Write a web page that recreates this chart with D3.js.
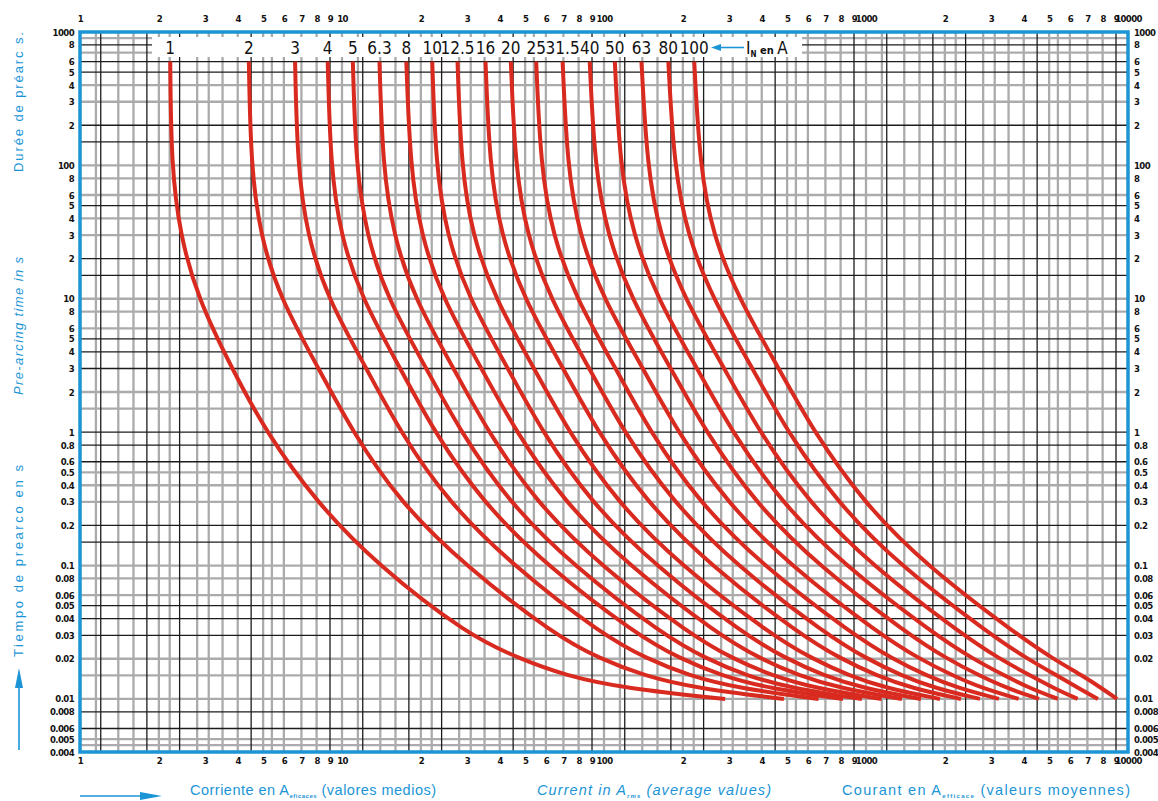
<!DOCTYPE html>
<html>
<head>
<meta charset="utf-8">
<script src="https://cdn.jsdelivr.net/npm/d3@7"></script>
<style>
    body { margin: 0; background: #fff; }
    svg text { font-family: "Liberation Sans Narrow", "DejaVu Sans Condensed", "Liberation Sans", sans-serif; }
    .tick-lbl text { font-size: 9.5px; font-weight: bold; fill: #111; letter-spacing: -0.6px; }
</style>
</head>
<body>
<svg id="chart" width="1158" height="801"></svg>
<script>
// fuse ratings (I_N in A) and the pre-arcing times
const ratings = [1, 2, 3, 4, 5, 6.3, 8, 10, 12.5, 16, 20, 25, 31.5, 40, 50, 63, 80, 100];
const rating_labels = ["1", "2", "3", "4", "5", "6.3", "8", "10", "12.5", "16", "20", "25", "31.5", "40", "50", "63", "80", "100"];
const times = [600, 100, 30, 10, 3, 1, 0.3, 0.1, 0.03, 0.02, 0.015, 0.012, 0.01];

// current (A) at each of the times above, one array per fuse
const curve_1 = [2.21, 2.23, 2.41, 2.82, 3.80, 5.13, 7.96, 13.7, 30.3, 47.8, 71.0, 120, 290];
const curve_2 = [4.41, 4.49, 4.87, 5.81, 8.14, 11.0, 16.6, 29.4, 65.0, 96.7, 141, 226, 486];
const curve_3 = [6.62, 6.76, 7.36, 8.82, 12.4, 16.7, 25.4, 44.8, 99.1, 146, 210, 327, 659];
const curve_4 = [8.82, 9.04, 9.86, 11.9, 16.7, 22.5, 34.3, 60.3, 134, 196, 279, 425, 817];
const curve_5 = [11.0, 11.3, 12.4, 14.9, 21.0, 28.4, 43.2, 76.0, 169, 246, 347, 521, 965];
const curve_6_3 = [13.9, 14.3, 15.7, 18.9, 26.7, 36.1, 55.0, 96.5, 215, 311, 436, 643, 1147];
const curve_8 = [17.6, 18.2, 20.0, 24.2, 34.1, 46.2, 70.4, 124, 275, 396, 552, 799, 1372];
const curve_10 = [22.1, 22.8, 25.1, 30.5, 43.0, 58.2, 88.8, 156, 347, 497, 688, 978, 1621];
const curve_12_5 = [27.6, 28.5, 31.4, 38.4, 54.1, 73.4, 112, 196, 437, 624, 858, 1199, 1916];
const curve_16 = [35.3, 36.6, 40.4, 49.5, 69.9, 94.7, 145, 254, 565, 802, 1094, 1501, 2304];
const curve_20 = [44.1, 45.8, 50.7, 62.3, 88.0, 119, 183, 319, 713, 1007, 1363, 1839, 2722];
const curve_25 = [55.1, 57.3, 63.6, 78.3, 111, 150, 230, 402, 899, 1263, 1699, 2253, 3217];
const curve_31_5 = [69.5, 72.4, 80.4, 99.4, 141, 191, 293, 511, 1143, 1598, 2135, 2781, 3824];
const curve_40 = [88.2, 92.1, 103, 127, 180, 245, 375, 655, 1467, 2038, 2702, 3456, 4574];
const curve_50 = [110, 115, 129, 160, 227, 308, 473, 825, 1849, 2556, 3368, 4234, 5404];
const curve_63 = [139, 146, 163, 203, 288, 392, 602, 1049, 2352, 3233, 4229, 5225, 6423];
const curve_80 = [176, 185, 208, 260, 369, 502, 772, 1343, 3014, 4123, 5355, 6494, 7678];
const curve_100 = [221, 232, 260, 327, 465, 633, 974, 1692, 3802, 5174, 6673, 7958, 9075];

const curves = [curve_1, curve_2, curve_3, curve_4, curve_5, curve_6_3, curve_8, curve_10, curve_12_5,
    curve_16, curve_20, curve_25, curve_31_5, curve_40, curve_50, curve_63, curve_80, curve_100];

// axis ticks
const x_decades = [1, 10, 100, 1000];
const x_tick_values = [1, 2, 3, 4, 5, 6, 7, 8, 9, 10, 20, 30, 40, 50, 60, 70, 80, 90, 100, 200, 300, 400, 500,
    600, 700, 800, 900, 1000, 2000, 3000, 4000, 5000, 6000, 7000, 8000, 9000, 10000];
const y_tick_values = [1000, 800, 600, 500, 400, 300, 200, 100, 80, 60, 50, 40, 30, 20, 10, 8, 6, 5, 4, 3, 2,
    1, 0.8, 0.6, 0.5, 0.4, 0.3, 0.2, 0.1, 0.08, 0.06, 0.05, 0.04, 0.03, 0.02, 0.01, 0.008, 0.006, 0.005, 0.004];

// grid (the printed grid is doubled: light grey lines and thin black lines)
const v_grey_mult = [1, 1.15, 1.4, 1.6, 2, 2.2, 2.8, 3.1, 3.5, 4, 5, 5.4, 6, 7, 8];
const v_black_mult = [1.2, 1.8, 2.4, 4.5, 9];
const h_grey = [900, 700, 400, 300, 100, 80, 60, 40, 30, 10, 8, 6, 2, 1.5, 0.5, 0.4, 0.3, 0.1, 0.08, 0.06,
    0.02, 0.015, 0.01, 0.005, 0.0045];
const h_black = [800, 600, 500, 200, 150, 50, 20, 15, 5, 4, 3, 1, 0.8, 0.6, 0.2, 0.15, 0.05, 0.04, 0.03,
    0.008, 0.006];

const blue = '#1b95d6';
const red = '#d92a20';

let svg = d3.select('#chart'),
    margin = {top: 32, left: 80, bottom: 49, right: 30},
    width = +svg.attr('width'),
    height = +svg.attr('height');

let x = d3.scaleLog().domain([1, 10000]).range([margin.left, width - margin.right]);
let y = d3.scaleLog().domain([0.004, 1000]).range([height - margin.bottom, margin.top]);

svg.append('defs').append('clipPath').attr('id', 'plot_clip')
    .append('rect')
    .attr('x', x(1)).attr('y', y(1000))
    .attr('width', x(10000) - x(1)).attr('height', y(0.004) - y(1000));

let grid = svg.append('g').attr('clip-path', 'url(#plot_clip)');

let v_grey = [], v_black = [];
x_decades.forEach(dec => {
    v_grey_mult.forEach(m => v_grey.push(m * dec));
    v_black_mult.forEach(m => v_black.push(m * dec));
});

grid.selectAll('.vg').data(v_grey).enter().append('line')
    .attr('x1', d => x(d)).attr('x2', d => x(d))
    .attr('y1', y(1000)).attr('y2', y(0.004))
    .attr('stroke', '#ababab').attr('stroke-width', 2.3);

grid.selectAll('.hg').data(h_grey).enter().append('line')
    .attr('y1', d => y(d)).attr('y2', d => y(d))
    .attr('x1', x(1)).attr('x2', x(10000))
    .attr('stroke', '#ababab').attr('stroke-width', 2.3);

grid.selectAll('.vb').data(v_black).enter().append('line')
    .attr('x1', d => x(d)).attr('x2', d => x(d))
    .attr('y1', y(1000)).attr('y2', y(0.004))
    .attr('stroke', '#1c1c1c').attr('stroke-width', 1.3);

grid.selectAll('.hb').data(h_black).enter().append('line')
    .attr('y1', d => y(d)).attr('y2', d => y(d))
    .attr('x1', x(1)).attr('x2', x(10000))
    .attr('stroke', '#1c1c1c').attr('stroke-width', 1.3);

// white band behind the rating labels
svg.append('rect')
    .attr('x', 152).attr('y', 37)
    .attr('width', 650).attr('height', 20)
    .attr('fill', '#fff');

// curves
let line = d3.line()
    .x(d => x(d[0]))
    .y(d => y(d[1]))
    .curve(d3.curveBasis);

svg.append('g').attr('clip-path', 'url(#plot_clip)')
    .selectAll('path')
    .data(curves.map(c => c.map((v, i) => [v, times[i]])))
    .enter().append('path')
    .attr('d', line)
    .attr('fill', 'none')
    .attr('stroke', red)
    .attr('stroke-width', 4)
    .attr('stroke-linejoin', 'round');

// rating labels above each curve
svg.append('g').selectAll('text')
    .data(ratings)
    .enter().append('text')
    .attr('x', (d, i) => x(curves[i][0]))
    .attr('y', 54)
    .attr('text-anchor', 'middle')
    .style('font-size', '17px')
    .attr('fill', '#111')
    .text((d, i) => rating_labels[i]);

let in_lbl = svg.append('g');
in_lbl.append('line')
    .attr('x1', 716).attr('x2', 744).attr('y1', 47.5).attr('y2', 47.5)
    .attr('stroke', blue).attr('stroke-width', 1.6);
in_lbl.append('path')
    .attr('d', 'M711,47.5 L721,44 L721,51 Z')
    .attr('fill', blue);
let in_txt = in_lbl.append('text').attr('x', 746).attr('y', 54).attr('fill', '#111').style('font-size', '17px');
in_txt.append('tspan').text('I');
in_txt.append('tspan').attr('dy', 3).style('font-size', '8px').style('font-weight', 'bold').text('N');
in_txt.append('tspan').attr('dy', -3).style('font-size', '11px').style('font-weight', 'bold').text(' en ');
in_txt.append('tspan').text('A');

// axes
let x_fmt = d => x_decades.concat([10000]).includes(d) ? String(d) : String(Math.round(d / Math.pow(10, Math.floor(Math.log10(d) + 1e-9))));
let y_fmt = d => {
    if (d < 1) return String(d);
    let p = Math.pow(10, Math.floor(Math.log10(d) + 1e-9));
    return Math.abs(d - p) < 1e-9 ? String(d) : String(Math.round(d / p));
};

svg.append('g').attr('class', 'tick-lbl')
    .attr('transform', `translate(0,${y(1000)})`)
    .call(d3.axisTop(x).tickValues(x_tick_values).tickFormat(x_fmt).tickSize(0).tickPadding(10))
    .call(g => g.select('.domain').remove());

svg.append('g').attr('class', 'tick-lbl')
    .attr('transform', `translate(0,${y(0.004)})`)
    .call(d3.axisBottom(x).tickValues(x_tick_values).tickFormat(x_fmt).tickSize(0).tickPadding(5))
    .call(g => g.select('.domain').remove());

svg.append('g').attr('class', 'tick-lbl')
    .attr('transform', `translate(${x(1)},0)`)
    .call(d3.axisLeft(y).tickValues(y_tick_values).tickFormat(y_fmt).tickSize(0).tickPadding(6))
    .call(g => g.select('.domain').remove());

svg.append('g').attr('class', 'tick-lbl')
    .attr('transform', `translate(${x(10000)},0)`)
    .call(d3.axisRight(y).tickValues(y_tick_values).tickFormat(y_fmt).tickSize(0).tickPadding(6))
    .call(g => g.select('.domain').remove());

// frame
svg.append('rect')
    .attr('x', x(1)).attr('y', y(1000))
    .attr('width', x(10000) - x(1)).attr('height', y(0.004) - y(1000))
    .attr('fill', 'none').attr('stroke', blue).attr('stroke-width', 3.5);

// vertical titles on the left
let left_titles = [
    {text: 'Tiempo de prearco en s', cy: 561, len: 192, italic: false},
    {text: 'Pre-arcing time in s', cy: 326, len: 138, italic: true},
    {text: 'Durée de préarc s.', cy: 102, len: 140, italic: false}
];
svg.append('g').selectAll('text')
    .data(left_titles)
    .enter().append('text')
    .attr('transform', d => `translate(23,${d.cy}) rotate(-90)`)
    .attr('text-anchor', 'middle')
    .attr('textLength', d => d.len)
    .attr('lengthAdjust', 'spacing')
    .attr('fill', blue)
    .style('font-size', '13px')
    .style('font-family', '"Liberation Sans", sans-serif')
    .style('font-style', d => d.italic ? 'italic' : 'normal')
    .text(d => d.text);

// arrows
svg.append('line').attr('x1', 19).attr('x2', 19).attr('y1', 750).attr('y2', 685)
    .attr('stroke', blue).attr('stroke-width', 1.6);
svg.append('path').attr('d', 'M19,668 L15,688 L23,688 Z').attr('fill', blue);

svg.append('line').attr('x1', 80).attr('x2', 145).attr('y1', 796).attr('y2', 796)
    .attr('stroke', blue).attr('stroke-width', 1.6);
svg.append('path').attr('d', 'M162,796 L140,792 L140,800 Z').attr('fill', blue);

// bottom titles
let bottom_titles = [
    {a: 'Corriente en A', sub: 'eficaces', b: ' (valores medios)', x0: 190, len: 246, italic: false},
    {a: 'Current in A', sub: 'rms', b: ' (average values)', x0: 537, len: 234, italic: true},
    {a: 'Courant en A', sub: 'efficace', b: ' (valeurs moyennes)', x0: 842, len: 288, italic: false}
];
bottom_titles.forEach(d => {
    let t = svg.append('text')
        .attr('x', d.x0).attr('y', 795)
        .attr('textLength', d.len)
        .attr('lengthAdjust', 'spacing')
        .attr('fill', blue)
        .style('font-size', '14.5px')
        .style('font-family', '"Liberation Sans", sans-serif')
        .style('font-style', d.italic ? 'italic' : 'normal');
    t.append('tspan').text(d.a);
    t.append('tspan').attr('dy', 3).style('font-size', '6px').style('font-weight', 'bold').text(d.sub);
    t.append('tspan').attr('dy', -3).text(d.b);
});
</script>
</body>
</html>
